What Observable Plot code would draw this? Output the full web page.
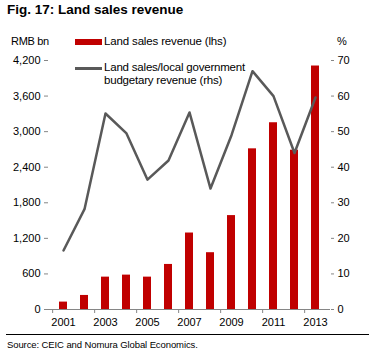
<!DOCTYPE html>
<html>
<head>
<meta charset="utf-8">
<script src="https://cdn.jsdelivr.net/npm/d3@7"></script>
<script src="https://cdn.jsdelivr.net/npm/@observablehq/plot@0.6"></script>
<style>
  body { margin: 0; background: #fff; font-family: "Liberation Sans", Arial, sans-serif; }
  #wrap { position: relative; width: 369px; height: 358px; overflow: hidden; }
  .t { position: absolute; white-space: nowrap; color: #000; }
  #title { left: 7px; top: 2px; font-size: 13.5px; font-weight: bold; }
  #rmb { left: 11px; top: 35px; font-size: 11px; letter-spacing: -0.3px; }
  #pct { left: 337px; top: 35px; font-size: 11px; }
  #lg1sw { position: absolute; left: 75px; top: 39px; width: 27px; height: 6px; background: #C00000; }
  #lg1 { left: 104px; top: 35px; font-size: 11.5px; letter-spacing: -0.15px; }
  #lg2sw { position: absolute; left: 75px; top: 67px; width: 27px; height: 3px; background: #595959; }
  #lg2 { left: 104px; top: 61px; font-size: 11.5px; line-height: 13px; letter-spacing: -0.2px; }
  #rule { position: absolute; left: 6px; top: 334px; width: 363px; height: 1px; background: #000; }
  #src { left: 7px; top: 339px; font-size: 9.5px; letter-spacing: -0.1px; }
  #chart { position: absolute; left: 0; top: 0; }
</style>
</head>
<body>
<div id="wrap">
  <div id="chart"></div>
  <div class="t" id="title">Fig. 17: Land sales revenue</div>
  <div class="t" id="rmb">RMB bn</div>
  <div class="t" id="pct">%</div>
  <div id="lg1sw"></div>
  <div class="t" id="lg1">Land sales revenue (lhs)</div>
  <div id="lg2sw"></div>
  <div class="t" id="lg2">Land sales/local government<br>budgetary revenue (rhs)</div>
  <div id="rule"></div>
  <div class="t" id="src">Source: CEIC and Nomura Global Economics.</div>
</div>
<script>
const years = [2001, 2002, 2003, 2004, 2005, 2006, 2007, 2008, 2009, 2010, 2011, 2012, 2013];
const landSales = [125, 237, 546, 580, 546, 760, 1290, 958, 1584, 2710, 3150, 2687, 4107];
const landShare = [16.6, 28.2, 55.1, 49.5, 36.5, 41.9, 55.4, 34.0, 49.0, 67.0, 60.0, 44.0, 59.6];
const leftTicks = [0, 600, 1200, 1800, 2400, 3000, 3600, 4200];
const rightTicks = [0, 10, 20, 30, 40, 50, 60, 70];
const xLabelYears = [2001, 2003, 2005, 2007, 2009, 2011, 2013];

const leftMax = 4200, rightMax = 70;
const k = leftMax / rightMax;
const data = years.map((y, i) => ({year: y, sales: landSales[i], share: landShare[i]}));

const W = 369, H = 335, mL = 48, mR = 39, mT = 60, mB = 26;
const step = (W - mL - mR) / years.length;
const gray = "#868686";

const chart = Plot.plot({
  width: W, height: H,
  marginTop: mT, marginBottom: mB, marginLeft: mL, marginRight: mR,
  style: {fontFamily: "'Liberation Sans', Arial, sans-serif", fontSize: "11px", color: "#000", background: "transparent"},
  x: {type: "band", domain: years, paddingInner: 0.6, paddingOuter: 0.3},
  y: {domain: [0, leftMax]},
  marks: [
    Plot.barY(data, {x: "year", y: "sales", fill: "#C00000"}),
    Plot.lineY(data, {x: "year", y: d => d.share * k, stroke: "#595959", strokeWidth: 2.5}),
    Plot.ruleY([0], {stroke: gray}),
    Plot.axisX(xLabelYears, {tickSize: 4, tickFormat: () => "", dx: -step / 2, stroke: gray, label: null}),
    Plot.axisX(xLabelYears, {tickSize: 0, tickPadding: 9, tickFormat: d => String(d), label: null, fill: "#000"}),
    Plot.axisY(leftTicks, {anchor: "left", tickSize: 4, tickPadding: 4, tickFormat: d3.format(","), stroke: gray, fill: "#000", line: true, label: null}),
    Plot.axisY(rightTicks.map(v => v * k), {anchor: "right", tickSize: 3, tickPadding: 4, tickFormat: d => String(Math.round(d / k)), stroke: gray, fill: "#000", line: true, label: null})
  ]
});
document.getElementById("chart").appendChild(chart);
</script>
</body>
</html>
